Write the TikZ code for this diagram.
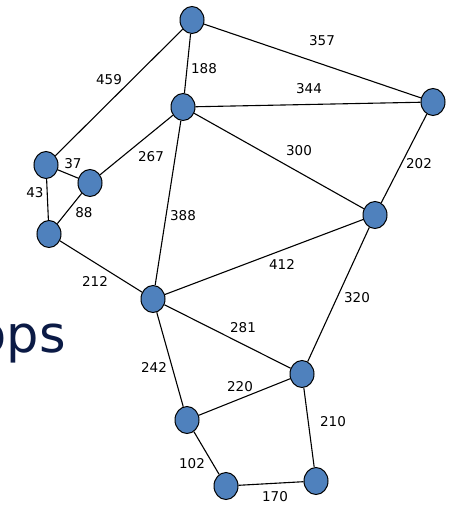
\documentclass[tikz,border=0pt]{standalone}
\usepackage{fontspec}
\setmainfont{DejaVu Sans}
\usetikzlibrary{shapes.geometric}
\definecolor{nodeblue}{HTML}{4F81BD}
\definecolor{navy}{HTML}{0B1A45}
\tikzset{
  vtx/.style={ellipse, draw=black, line width=1pt, fill=nodeblue, minimum width=24pt, minimum height=27pt, inner sep=0pt},
  edge/.style={draw=black, line width=1.1pt},
  wlabel/.style={font=\fontsize{13.5}{15}\selectfont, inner sep=0pt, text=black}
}
\begin{document}
\begin{tikzpicture}[x=1pt,y=-1pt]
\useasboundingbox (0,0) rectangle (457,508);
\clip (0,0) rectangle (457,508);
% partial title text
\node[anchor=base east, text=navy, font=\fontsize{51}{60}\selectfont, inner sep=0pt] (title) at (66,352) {ops};
% vertices
\node[vtx] (A) at (192,20) {};
\node[vtx] (B) at (183,107) {};
\node[vtx] (C) at (433,102) {};
\node[vtx] (D) at (46,165) {};
\node[vtx] (E) at (90,183) {};
\node[vtx] (F) at (49,234) {};
\node[vtx] (G) at (375,215) {};
\node[vtx] (H) at (153,299) {};
\node[vtx] (I) at (302,374) {};
\node[vtx] (J) at (187,420) {};
\node[vtx] (K) at (226,486) {};
\node[vtx] (L) at (316,481) {};
% edges
\draw[edge] (A) -- (C);
\draw[edge] (A) -- (B);
\draw[edge] (A) -- (D);
\draw[edge] (B) -- (C);
\draw[edge] (B) -- (E);
\draw[edge] (B) -- (G);
\draw[edge] (B) -- (H);
\draw[edge] (C) -- (G);
\draw[edge] (D) -- (E);
\draw[edge] (D) -- (F);
\draw[edge] (E) -- (F);
\draw[edge] (F) -- (H);
\draw[edge] (H) -- (G);
\draw[edge] (G) -- (I);
\draw[edge] (H) -- (I);
\draw[edge] (H) -- (J);
\draw[edge] (J) -- (I);
\draw[edge] (I) -- (L);
\draw[edge] (J) -- (K);
\draw[edge] (K) -- (L);
% labels
\node[wlabel] (l357) at (322,41) {357};
\node[wlabel] (l188) at (204,69) {188};
\node[wlabel] (l459) at (109,80) {459};
\node[wlabel] (l344) at (309,89) {344};
\node[wlabel] (l300) at (299,151) {300};
\node[wlabel] (l267) at (151,157) {267};
\node[wlabel] (l202) at (419,164) {202};
\node[wlabel] (l37) at (73,164) {37};
\node[wlabel] (l43) at (35,193) {43};
\node[wlabel] (l88) at (84,213) {88};
\node[wlabel] (l388) at (183,216) {388};
\node[wlabel] (l412) at (282,264) {412};
\node[wlabel] (l212) at (95,281) {212};
\node[wlabel] (l320) at (357,298) {320};
\node[wlabel] (l281) at (243,328) {281};
\node[wlabel] (l242) at (154,367) {242};
\node[wlabel] (l220) at (240,387) {220};
\node[wlabel] (l210) at (333,422) {210};
\node[wlabel] (l102) at (192,464) {102};
\node[wlabel] (l170) at (275,497) {170};
\end{tikzpicture}
\end{document}
